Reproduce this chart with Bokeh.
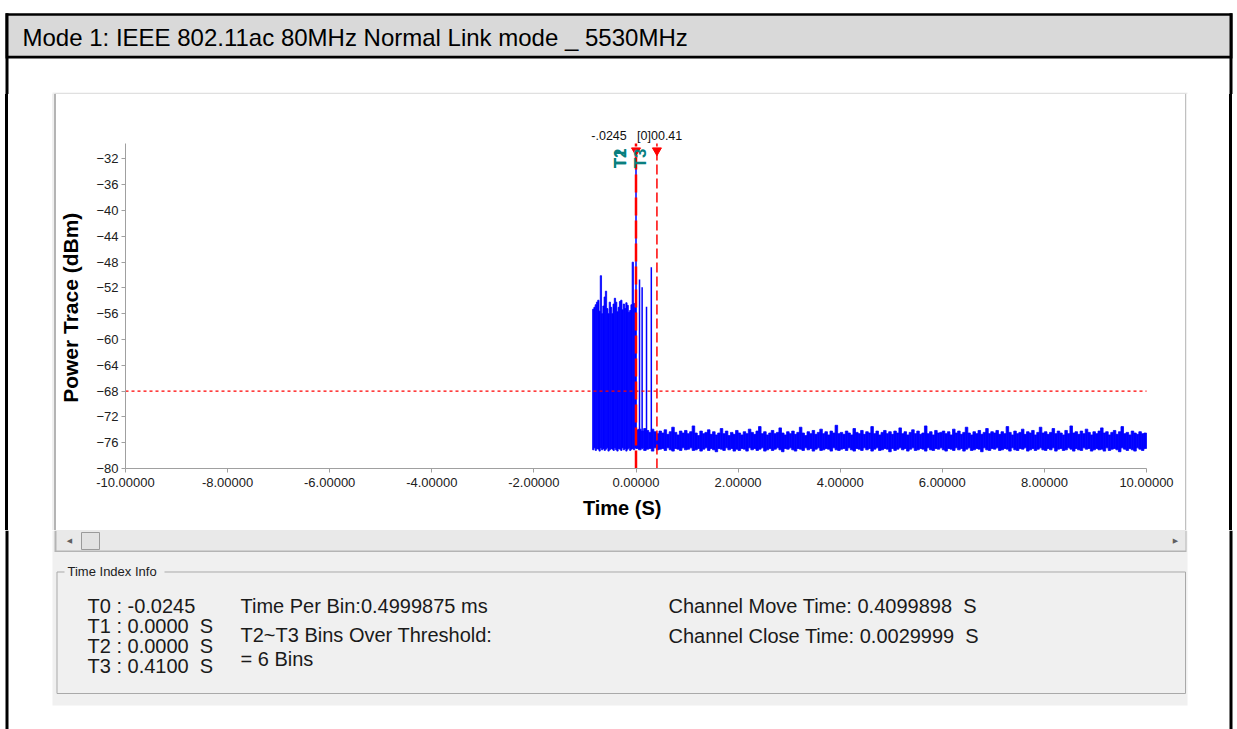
import math
from bokeh.plotting import figure
from bokeh.layouts import column, row
from bokeh.models import Range1d, FixedTicker, PrintfTickFormatter
from bokeh.core.properties import value
from bokeh.embed import file_html
from bokeh.resources import INLINE

# ---------------- data ----------------
TITLE = "Mode 1: IEEE 802.11ac 80MHz Normal Link mode _ 5530MHz"
X_LABEL = "Time (S)"
Y_LABEL = "Power Trace (dBm)"
X_TICKS = [-10, -8, -6, -4, -2, 0, 2, 4, 6, 8, 10]
Y_TICKS = [-80, -76, -72, -68, -64, -60, -56, -52, -48, -44, -40, -36, -32]
X_MIN, X_MAX = -10, 10
Y_MIN, Y_MAX = -80, -29.6
THRESHOLD = -68
T0, T1, T2, T3 = -0.0245, 0.0, 0.0, 0.41
MARKER_TOP_LABELS = ["-.0245", "[0]0", "0.41"]
MARKER_NAMES = ["T1", "T2", "T3"]

BURST_START, BURST_STEP = -0.85, 0.025
burst_top = [-55.3, -55.0, -54.6, -54.2, -53.9, -55.6, -50.1, -56.0, -54.8, -53.4,
             -52.5, -55.2, -56.0, -54.2, -55.0, -56.0, -54.5, -53.6, -54.2, -55.7,
             -55.0, -54.1, -53.9, -55.4, -54.5, -55.2, -54.3, -54.7, -55.8, -55.5,
             -54.6, -48.0, -54.4, -55.0]
burst_bottom = [-77.1, -76.8, -77.2, -76.9, -77.0, -77.3, -76.8, -77.1, -76.9, -77.2,
                -77.0, -76.8, -77.3, -77.1, -76.9, -77.0, -77.2, -76.8, -77.1, -77.3,
                -76.9, -77.0, -77.2, -76.8, -77.1, -76.9, -77.3, -77.0, -76.8, -77.2,
                -77.0, -76.9, -77.1, -76.8]

spike_t = [0.0, 0.069, 0.12, 0.206, 0.30]
spike_top = [-33.5, -50.7, -51.9, -54.9, -48.8]
spike_bottom = [-76.9, -76.8, -77.0, -76.9, -76.8]

NOISE_START, NOISE_STEP = 0.0, 0.05
noise_top = [
    -74.0, -73.9, -74.2, -73.8, -74.1, -74.4, -73.9, -74.3, -74.6, -74.2, -74.5, -74.0, -74.7, -74.3, -73.6, -74.4, -74.8, -74.2, -74.5, -74.1,
    -74.6, -74.3, -73.4, -74.5, -74.9, -74.2, -74.6, -74.4, -74.0, -74.7, -74.3, -74.8, -74.5, -73.8, -74.6, -74.2, -74.9, -74.4, -74.7, -74.1,
    -74.5, -74.8, -74.3, -74.6, -73.9, -74.4, -74.7, -74.2, -73.5, -74.6, -74.3, -74.8, -74.5, -74.1, -74.6, -74.4, -73.7, -74.5, -74.8, -74.3,
    -74.6, -74.2, -74.7, -74.4, -73.6, -74.5, -74.9, -74.3, -74.6, -74.1, -74.7, -74.4, -73.9, -74.6, -74.3, -74.8, -74.2, -74.5, -73.3, -74.6,
    -74.4, -74.7, -74.2, -74.5, -74.8, -73.8, -74.4, -74.6, -74.1, -74.7, -74.3, -74.5, -73.5, -74.6, -74.2, -74.8, -74.4, -74.1, -74.6, -74.3,
    -74.7, -74.2, -74.5, -73.7, -74.6, -74.3, -74.8, -74.4, -74.0, -74.6, -74.2, -74.7, -74.5, -73.4, -74.6, -74.3, -74.8, -74.1, -74.5, -74.4,
    -74.2, -74.6, -74.3, -74.8, -73.9, -74.5, -74.2, -74.7, -74.4, -73.6, -74.5, -74.8, -74.3, -74.6, -74.1, -74.7, -74.4, -73.8, -74.6, -74.3,
    -74.5, -74.1, -74.7, -74.3, -74.6, -73.5, -74.4, -74.8, -74.2, -74.6, -74.4, -73.9, -74.7, -74.3, -74.5, -74.1, -74.8, -74.4, -73.6, -74.5,
    -74.3, -74.7, -74.4, -73.8, -74.6, -74.2, -74.5, -74.8, -74.1, -74.6, -73.4, -74.5, -74.3, -74.7, -74.2, -74.6, -73.9, -74.4, -74.8, -74.3,
    -74.6, -74.2, -73.7, -74.5, -74.3, -74.8, -74.4, -74.1, -74.7, -74.3, -73.5, -74.6, -74.4, -74.8, -74.2, -74.5, -74.7, -74.3, -74.6, -74.5,
]
noise_bottom = [
    -76.9, -77.1, -76.8, -77.2, -77.0, -76.9, -77.3, -76.8, -77.1, -77.0, -76.9, -77.2, -76.8, -77.1, -77.3, -76.9, -77.0, -77.2, -76.8, -77.1,
    -77.0, -76.8, -77.2, -77.1, -76.9, -77.3, -77.0, -76.8, -77.2, -76.9, -77.1, -77.4, -76.9, -77.0, -77.2, -76.8, -77.1, -76.9, -77.3, -77.0,
    -77.2, -76.9, -77.0, -77.3, -76.8, -77.1, -76.9, -77.2, -77.0, -76.8, -77.3, -77.1, -76.9, -77.2, -77.0, -76.8, -77.1, -77.4, -76.9, -77.0,
    -76.8, -77.1, -77.3, -76.9, -77.0, -77.2, -76.8, -77.1, -76.9, -77.3, -77.0, -76.8, -77.2, -77.1, -76.9, -77.0, -77.3, -76.8, -77.1, -77.2,
    -77.0, -76.9, -77.2, -76.8, -77.1, -77.3, -76.9, -77.0, -77.2, -76.8, -77.1, -76.9, -77.3, -77.0, -76.8, -77.2, -77.1, -76.9, -77.0, -77.4,
    -76.9, -77.2, -77.0, -76.8, -77.1, -76.9, -77.3, -77.0, -76.8, -77.2, -77.1, -76.9, -77.0, -77.3, -76.8, -77.1, -77.2, -76.9, -77.0, -76.8,
    -77.1, -77.3, -76.9, -77.0, -77.2, -76.8, -77.1, -76.9, -77.3, -77.0, -76.8, -77.2, -77.1, -76.9, -77.0, -77.4, -76.8, -77.1, -77.2, -76.9,
    -77.0, -76.8, -77.2, -77.1, -76.9, -77.0, -77.3, -76.8, -77.1, -77.2, -76.9, -77.0, -76.8, -77.3, -77.1, -76.9, -77.2, -77.0, -76.8, -77.1,
    -77.2, -76.9, -77.1, -76.8, -77.3, -77.0, -76.9, -77.2, -77.1, -76.8, -77.0, -77.3, -76.9, -77.1, -77.2, -76.8, -77.0, -76.9, -77.3, -77.1,
    -76.9, -77.1, -77.0, -77.3, -76.8, -77.2, -77.0, -76.9, -77.1, -77.4, -76.8, -77.0, -77.2, -76.9, -77.1, -77.3, -76.8, -77.0, -77.2, -76.9,
]

NB = "\u00a0"
INFO_T_LINES = ["T0 : -0.0245", f"T1 : 0.0000{NB} S", f"T2 : 0.0000{NB} S", f"T3 : 0.4100{NB} S"]
INFO_MID_LINES = ["Time Per Bin:0.4999875 ms", "T2~T3 Bins Over Threshold:", "= 6 Bins"]
INFO_RIGHT_LINES = [f"Channel Move Time: 0.4099898{NB} S", f"Channel Close Time: 0.0029999{NB} S"]
GROUP_TITLE = "Time Index Info"

# ---------------- page layout (pixel geometry) ----------------
PAGE_W, PAGE_H = 1237, 729
FONT = "Liberation Sans"
PANEL = "#f0f0f0"
EDGE = "#b4b4b4"

CH_L, CH_R, CH_T, CH_B = 56, 1185, 94, 530     # chart figure box on page
FR_L, FR_B = 125, 468                          # frame left / bottom (axes)
AX_R, AX_T = 1146, 143                         # where x=10 and y=Y_MAX sit

LEFT_STRIPS = [(5, "#ffffff"), (3, "#000000"), (44, "#ffffff"), (2, PANEL), (2, EDGE)]
RIGHT_STRIPS = [(1, "#c0c0c0"), (1, PANEL), (42, "#ffffff"), (3, "#000000"), (5, "#ffffff")]


def base_fig(w, h, xr, yr):
    f = figure(width=w, height=h, title=None, x_range=xr, y_range=yr,
               x_axis_location=None, y_axis_location=None,
               output_backend="svg", toolbar_location=None, min_border=0)
    f.min_border_left = f.min_border_right = f.min_border_top = f.min_border_bottom = 0
    f.outline_line_color = None
    f.grid.visible = False
    return f


def deco_fig(x0, x1, y0, y1):
    f = base_fig(x1 - x0, y1 - y0, Range1d(x0, x1), Range1d(y1, y0))
    f.background_fill_color = "white"
    f.border_fill_color = "white"
    return f


def strip_fig(w, color):
    f = base_fig(w, CH_B - CH_T, Range1d(0, 1), Range1d(0, 1))
    f.min_border_bottom = CH_B - FR_B
    f.background_fill_color = color
    f.border_fill_color = color
    return f


def strip_gradient():
    stops, pos = [], 0
    for w, c in LEFT_STRIPS + [(CH_R - CH_L, "#ffffff")] + RIGHT_STRIPS:
        stops.append(f"{c} {pos}px {pos + w}px")
        pos += w
    return "linear-gradient(to right, " + ", ".join(stops) + ")"


def rect(f, l, r, t, b, fill):
    f.quad(left=[l], right=[r], top=[t], bottom=[b], fill_color=fill, line_color=None)


def txt(f, x, y, s, size, color="#1a1a1a", align="left", font=FONT, style="normal"):
    f.text(x=[x], y=[y], text=[s], text_font=value(font), text_font_size=f"{size}px",
           text_color=color, text_align=align, text_baseline="middle",
           text_font_style=style)


# ---- top band ----
top = deco_fig(0, PAGE_W, 0, CH_T)
rect(top, 5, 8, 12.7, CH_T, "black")                   # outer left border
rect(top, 1229, 1232, 12.7, CH_T, "black")             # outer right border
rect(top, 5, 1232, 12.7, 58, "black")                  # header border
rect(top, 8, 1229, 15.3, 55.3, "#d9d9d9")              # header fill
txt(top, 22, 36.5, TITLE, 24, color="black")
rect(top, 52, 1187, 92, CH_T, PANEL)                   # panel top
rect(top, 54, 1186, 93, CH_T, "#cfcfcf")               # chart box top edge

# ---- bottom band ----
bottom = deco_fig(0, PAGE_W, CH_B, PAGE_H)
rect(bottom, 5, 8, CH_B, PAGE_H, "black")
rect(bottom, 1229, 1232, CH_B, PAGE_H, "black")
rect(bottom, 52, 1187, CH_B, 705, PANEL)
rect(bottom, 54, 1186, CH_B, 551.5, EDGE)              # chart box edges
rect(bottom, 56, 1185, CH_B, 550, "#e9e9e9")           # scrollbar track
bottom.quad(left=[81], right=[99], top=[532], bottom=[549], fill_color="#e2e2e2",
            line_color="#9a9a9a", line_width=1)        # scrollbar thumb
txt(bottom, 69, 540, "\u25c0", 7, color="#606060", align="center", font="DejaVu Sans")
txt(bottom, 1175, 540, "\u25b6", 7, color="#606060", align="center", font="DejaVu Sans")
bottom.quad(left=[56.5], right=[1185], top=[571.5], bottom=[693], fill_color=None,
            line_color="#a9a9a9", line_width=1)        # group box
rect(bottom, 64, 164, 564, 579, PANEL)
txt(bottom, 67, 571, GROUP_TITLE, 13, color="#202020")
for s, y in zip(INFO_T_LINES, [605, 625, 645, 665]):
    txt(bottom, 87, y, s, 20)
for s, y in zip(INFO_MID_LINES, [605, 634, 658]):
    txt(bottom, 240, y, s, 20)
for s, y in zip(INFO_RIGHT_LINES, [605, 635]):
    txt(bottom, 668, y, s, 20)

# ---- chart ----
px_per_x = (AX_R - FR_L) / (X_MAX - X_MIN)
px_per_y = (FR_B - AX_T) / (Y_MAX - Y_MIN)
x_end = X_MIN + (CH_R - FR_L) / px_per_x
y_end = Y_MIN + (FR_B - CH_T) / px_per_y

p = figure(width=CH_R - CH_L, height=CH_B - CH_T, title=None,
           x_range=Range1d(X_MIN, x_end), y_range=Range1d(Y_MIN, y_end),
           output_backend="svg", toolbar_location=None,
           min_border_left=FR_L - CH_L, min_border_right=0,
           min_border_top=0, min_border_bottom=CH_B - FR_B)
p.outline_line_color = None
p.grid.visible = False
p.background_fill_color = "white"
p.border_fill_color = "white"

p.xaxis.ticker = FixedTicker(ticks=X_TICKS)
p.xaxis.formatter = PrintfTickFormatter(format="%.5f")
p.yaxis.ticker = FixedTicker(ticks=Y_TICKS)
p.xaxis.bounds = (X_MIN, X_MAX)
p.yaxis.bounds = (Y_MIN, Y_MAX)
for ax in (p.xaxis[0], p.yaxis[0]):
    ax.axis_line_color = "#a0a0a0"
    ax.major_tick_line_color = "#a0a0a0"
    ax.major_tick_out = 4
    ax.major_tick_in = 0
    ax.minor_tick_line_color = None
    ax.major_label_text_font = FONT
    ax.major_label_text_font_size = "13px"
    ax.major_label_text_color = "#202020"
    ax.axis_label_text_font = FONT
    ax.axis_label_text_font_style = "bold"
    ax.axis_label_text_color = "black"
# trailing no-break spaces move the centred labels to where the reference has them
p.xaxis.axis_label = X_LABEL + NB * 12
p.yaxis.axis_label = Y_LABEL + NB * 9
p.xaxis.axis_label_text_font_size = "20px"
p.yaxis.axis_label_text_font_size = "21px"
p.xaxis.major_label_standoff = 5
p.yaxis.major_label_standoff = 3
p.xaxis.axis_label_standoff = 7
p.yaxis.axis_label_standoff = 11

BLUE = "#0000ff"
burst_t = [BURST_START + BURST_STEP * (i + 0.5) for i in range(len(burst_top))]
noise_t = [NOISE_START + NOISE_STEP * (i + 0.5) for i in range(len(noise_top))]
p.vbar(x=burst_t, top=burst_top, bottom=burst_bottom, width=BURST_STEP,
       fill_color=BLUE, line_color=BLUE, line_width=0.8)
p.vbar(x=noise_t, top=noise_top, bottom=noise_bottom, width=NOISE_STEP,
       fill_color=BLUE, line_color=BLUE, line_width=0.8)
p.segment(x0=spike_t, y0=spike_bottom, x1=spike_t, y1=spike_top,
          line_color=BLUE, line_width=1.5)

# threshold
p.segment(x0=[X_MIN], y0=[THRESHOLD], x1=[X_MAX], y1=[THRESHOLD],
          line_color="red", line_dash="3 3", line_width=1.2)
# time markers
p.segment(x0=[T1], y0=[Y_MIN], x1=[T1], y1=[Y_MAX], line_color="red",
          line_dash="18 5", line_width=2.5)
p.segment(x0=[T3], y0=[Y_MIN], x1=[T3], y1=[Y_MAX], line_color="red",
          line_dash="10 4", line_width=1.5)

marker_y = Y_MAX - 7 / px_per_y
p.scatter(x=[T1, T3], y=[marker_y, marker_y], marker="inverted_triangle",
          size=9, fill_color="red", line_color="red")

p.text(x=[T1, T2, T3], y=[Y_MAX] * 3, text=MARKER_NAMES, angle=math.pi / 2,
       x_offset=-16, y_offset=5, text_align="right", text_baseline="middle",
       text_color="#0a7f7f", text_font=value(FONT), text_font_style="bold",
       text_font_size="17px")

p.text(x=[T0, T1, T3], y=[Y_MAX] * 3, text=MARKER_TOP_LABELS,
       x_offset=[-8, 1, 1], y_offset=-8, text_align=["right", "left", "left"],
       text_baseline="middle", text_color="#101010", text_font=value(FONT),
       text_font_size="12.5px")

middle = row(*[strip_fig(w, c) for w, c in LEFT_STRIPS], p,
             *[strip_fig(w, c) for w, c in RIGHT_STRIPS], spacing=0,
             styles={"background": strip_gradient()})
layout = column(top, middle, bottom, spacing=0)
open("out.html", "w").write(file_html(layout, INLINE))
